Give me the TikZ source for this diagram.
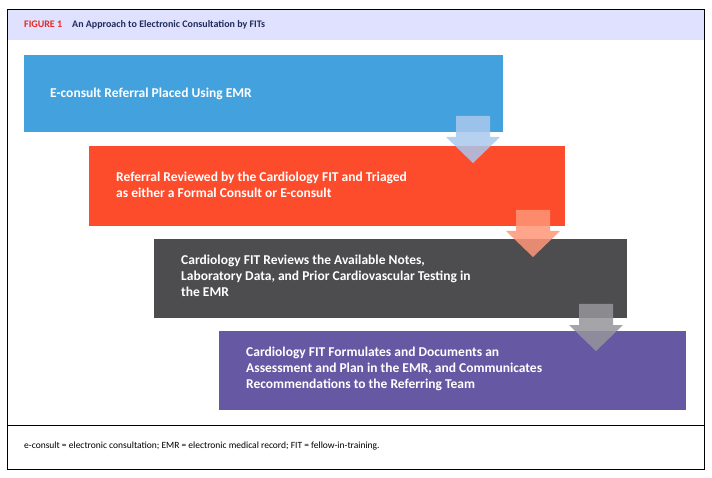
\documentclass[tikz,border=0pt]{standalone}
\usepackage{fontspec}
\setmainfont{Carlito}
\begin{document}
\begin{tikzpicture}[x=1pt,y=-1pt,
  stepbox/.style={anchor=north west,inner sep=0pt,text=white,font=\bfseries\fontsize{13.5}{16}\selectfont,align=left},
  arr/.style={fill=#1,opacity=0.75}]
\useasboundingbox (0,0) rectangle (712,478);
\fill[white] (0,0) rectangle (712,478);
\fill[blue!12!white] (7,10) rectangle (704,40);
\draw[line width=1pt] (7,10) rectangle (704,469);
\draw[line width=0.6pt] (7,425) -- (704,425);
\node[anchor=west,inner sep=0pt,font=\bfseries\fontsize{10}{12}\selectfont] (title) at (24,25) {\textcolor[HTML]{E8281E}{FIGURE 1}\quad\textcolor[HTML]{1F2D5A}{An Approach to Electronic Consultation by FITs}};
\fill[fill={rgb,255:red,67;green,161;blue,221}] (24,55) rectangle (503,132);
\fill[fill={rgb,255:red,252;green,76;blue,44}] (89,146) rectangle (565,226);
\fill[fill={rgb,255:red,77;green,77;blue,79}] (154,239) rectangle (627,318);
\fill[fill={rgb,255:red,103;green,88;blue,164}] (219,331) rectangle (686,410);
\node[anchor=west,inner sep=0pt,text=white,font=\bfseries\fontsize{13.5}{16}\selectfont] (b1) at (50,94) {E-consult Referral Placed Using EMR};
\node[anchor=west,inner sep=0pt,text=white,font=\bfseries\fontsize{13.5}{16}\selectfont,align=left] (b2) at (116,185) {Referral Reviewed by the Cardiology FIT and Triaged\\as either a Formal Consult or E-consult};
\node[anchor=west,inner sep=0pt,text=white,font=\bfseries\fontsize{13.5}{16}\selectfont,align=left] (b3) at (181,276) {Cardiology FIT Reviews the Available Notes,\\Laboratory Data, and Prior Cardiovascular Testing in\\the EMR};
\node[anchor=west,inner sep=0pt,text=white,font=\bfseries\fontsize{13.5}{16}\selectfont,align=left] (b4) at (246,369) {Cardiology FIT Formulates and Documents an\\Assessment and Plan in the EMR, and Communicates\\Recommendations to the Referring Team};
\foreach \cx/\ty/\c in {473/116/{rgb,255:red,170;green,200;blue,238},533/210/{rgb,255:red,255;green,150;blue,120},596/304/{rgb,255:red,150;green,150;blue,155}}{
  \fill[fill=\c,opacity=0.85] (\cx-17,\ty) -- (\cx+17,\ty) -- (\cx+17,\ty+21) -- (\cx+27,\ty+21) -- (\cx,\ty+47) -- (\cx-27,\ty+21) -- (\cx-17,\ty+21) -- cycle;
}
\node[anchor=west,inner sep=0pt,font=\fontsize{9.5}{11}\selectfont] (foot) at (24,446) {e-consult = electronic consultation; EMR = electronic medical record; FIT = fellow-in-training.};
\end{tikzpicture}
\end{document}
